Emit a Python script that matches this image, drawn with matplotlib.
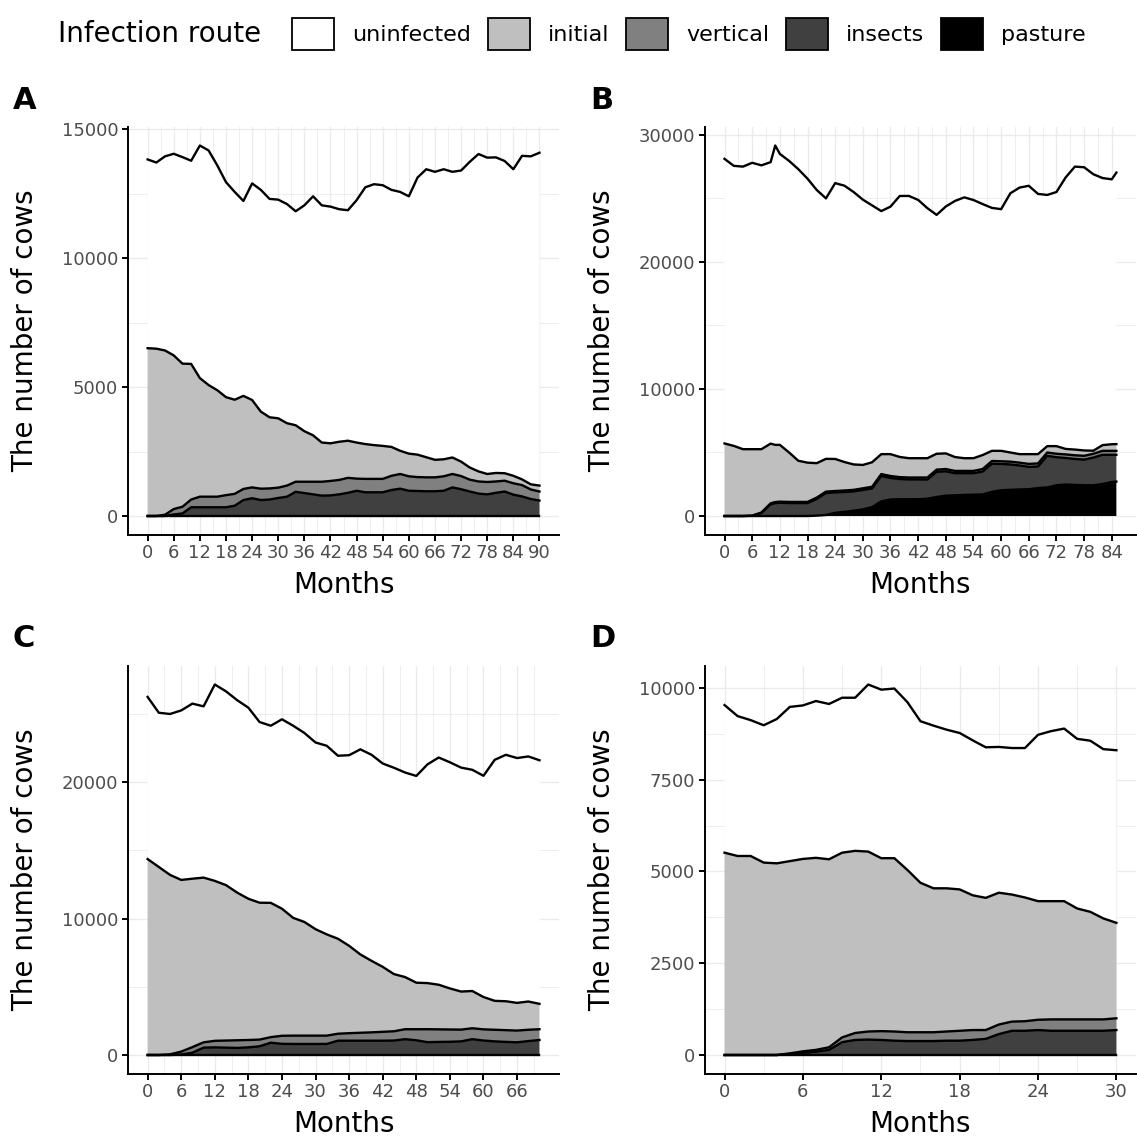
import numpy as np
import matplotlib
matplotlib.use('Agg')
import matplotlib.pyplot as plt
from matplotlib.patches import Patch
from matplotlib.ticker import MultipleLocator, FixedLocator

##########################
### DATA (cows per infection route)
##########################

route_names = ['uninfected', 'initial', 'vertical', 'insects', 'pasture']
route_colors = ['#FFFFFF', '#BFBFBF', '#808080', '#404040', '#000000']

# Panel A
a_months = list(range(0, 91, 2))
a_uninfected = [7320, 7220, 7530, 7820, 8010, 7880, 9020, 9100, 8720, 8340, 8060, 7560, 8400, 8600, 8470, 8480,
                8500, 8300, 8760, 9270, 9200, 9180, 9020, 8940, 9400, 9960, 10120, 10110, 9970, 10040, 9980,
                10750, 11170, 11170, 11250, 11080, 11290, 11860, 12310, 12270, 12240, 12110, 11890, 12550, 12720, 12910]
a_initial = [6510, 6490, 6370, 5960, 5550, 5260, 4600, 4330, 4130, 3800, 3650, 3610, 3390, 2990, 2760, 2690,
             2420, 2190, 1960, 1800, 1520, 1460, 1480, 1440, 1400, 1350, 1310, 1280, 1120, 900, 880,
             870, 780, 680, 660, 640, 560, 470, 390, 310, 330, 290, 290, 220, 200, 230]
a_vertical = [0, 0, 50, 210, 260, 300, 410, 410, 410, 470, 460, 430, 420, 440, 430, 400,
              430, 390, 440, 490, 540, 560, 560, 580, 470, 520, 520, 520, 550, 570, 560,
              540, 540, 540, 560, 520, 510, 460, 470, 480, 440, 420, 440, 440, 370, 350]
a_insects = [0, 0, 0, 60, 100, 340, 340, 340, 340, 340, 400, 620, 690, 620, 640, 700,
             750, 940, 890, 840, 790, 800, 840, 900, 980, 920, 920, 920, 1010, 1060, 980,
             970, 960, 960, 980, 1110, 1040, 950, 870, 840, 900, 950, 830, 760, 660, 600]
a_pasture = [0] * len(a_months)

# Panel B
b_months = [0, 2, 4, 6, 8, 10, 11] + list(range(12, 85, 2)) + [85]
b_uninfected = [22400, 22040, 22240, 22540, 22340, 22150, 23560, 22900, 22950, 22950, 22350, 21500, 20500, 21710,
                21750, 21440, 20880, 20220, 19130, 19480, 20540, 20640, 20330, 19680, 18800, 19430, 20160, 20530,
                20320, 19750, 19120, 19020, 20400, 20980, 21120, 20480, 19770, 20000, 21370, 22270, 22290, 21760,
                21020, 20850, 21370]
b_initial = [5710, 5520, 5260, 5230, 4980, 4700, 4500, 4470, 3890, 3240, 3090, 2710, 2580, 2520,
             2240, 2000, 1840, 1930, 1570, 1720, 1590, 1520, 1520, 1520, 1250, 1230, 1090, 1000,
             1000, 1100, 800, 820, 720, 670, 770, 730, 500, 600, 430, 450, 420, 240, 450,
             520, 530]
b_vertical = [0, 0, 0, 10, 40, 80, 85, 90, 90, 90, 90, 100, 110, 110,
              120, 120, 130, 130, 150, 150, 150, 150, 150, 160, 170, 180, 180, 180,
              180, 200, 210, 210, 220, 220, 230, 240, 260, 270, 280, 290, 300, 300, 310,
              310, 310]
b_insects = [0, 0, 0, 20, 240, 920, 1015, 1040, 1020, 1020, 1020, 1320, 1730, 1610,
             1560, 1520, 1530, 1470, 2000, 1700, 1590, 1560, 1560, 1510, 1980, 1920, 1740, 1710,
             1690, 1800, 2220, 2070, 2000, 1890, 1760, 1700, 2490, 2210, 2090, 2040, 2020, 2180, 2300,
             2140, 2110]
b_pasture = [0, 0, 0, 0, 0, 0, 0, 0, 0, 0, 0, 30, 80, 250,
             330, 420, 520, 700, 1150, 1300, 1320, 1320, 1320, 1360, 1500, 1600, 1630, 1660,
             1680, 1700, 1900, 2030, 2060, 2090, 2110, 2200, 2250, 2420, 2480, 2450, 2420, 2420, 2520,
             2680, 2710]

# Panel C
c_months = list(range(0, 71, 2))
c_uninfected = [11880, 11300, 11790, 12420, 12830, 12550, 14390, 14200, 14100, 14000, 13240, 12980,
                13880, 14080, 13850, 13680, 13820, 13410, 13970, 15030, 15100, 14900, 15120, 14990,
                15150, 16030, 16650, 16570, 16410, 16210, 16210, 17660, 18060, 17940, 17960, 17850]
c_initial = [14360, 13780, 13150, 12580, 12340, 12070, 11720, 11390, 10820, 10350, 10030, 9840,
             9310, 8630, 8330, 7800, 7420, 6960, 6400, 5740, 5240, 4760, 4190, 3820,
             3410, 3380, 3270, 3010, 2790, 2730, 2370, 2120, 2120, 2030, 2070, 1860]
c_vertical = [0, 0, 50, 210, 410, 390, 480, 520, 560, 540, 490, 410,
              590, 610, 610, 610, 610, 510, 550, 580, 610, 650, 680, 730,
              810, 950, 920, 900, 860, 800, 820, 850, 860, 860, 830, 790]
c_insects = [0, 0, 0, 40, 170, 540, 560, 540, 520, 560, 640, 900,
             820, 810, 810, 810, 810, 1050, 1050, 1050, 1050, 1050, 1060, 1160,
             1080, 940, 960, 970, 1000, 1160, 1060, 1000, 960, 930, 1020, 1100]
c_pasture = [0] * len(c_months)

# Panel D
d_months = list(range(0, 31))
d_uninfected = [4020, 3810, 3700, 3740, 3930, 4200, 4180, 4270, 4230, 4220, 4170, 4550, 4590, 4620, 4570, 4400,
                4430, 4320, 4260, 4220, 4100, 3970, 3990, 4070, 4530, 4630, 4700, 4620, 4660, 4610, 4700]
d_initial = [5510, 5420, 5420, 5240, 5220, 5235, 5240, 5230, 5120, 5030, 4960, 4900, 4710, 4720, 4420, 4070,
             3920, 3900, 3850, 3670, 3600, 3590, 3460, 3370, 3230, 3220, 3220, 3020, 2930, 2750, 2600]
d_vertical = [0, 0, 0, 0, 0, 15, 45, 50, 70, 130, 190, 220, 240, 250, 240, 240,
              240, 250, 270, 270, 240, 260, 250, 260, 280, 310, 310, 310, 310, 310, 320]
d_insects = [0, 0, 0, 0, 0, 30, 55, 90, 140, 350, 410, 420, 410, 390, 380, 380,
             380, 390, 390, 410, 440, 570, 660, 660, 680, 660, 660, 660, 660, 660, 680]
d_pasture = [0] * len(d_months)


def draw_panel(ax, months, uninfected, initial, vertical, insects, pasture, y_major):
    months = np.asarray(months, dtype=float)
    # stack from the bottom: pasture, insects, vertical, initial, uninfected
    layers = np.array([pasture, insects, vertical, initial, uninfected], dtype=float)
    tops = np.cumsum(layers, axis=0)
    base = np.zeros(len(months))
    for top, col in zip(tops, route_colors[::-1]):
        ax.fill_between(months, base, top, facecolor=col, edgecolor='none', lw=0, zorder=2)
        base = top
    for top in tops:
        ax.plot(months, top, color='black', lw=1.7, zorder=3, solid_joinstyle='round')

    x0, x1 = months[0], months[-1]
    ymax = tops[-1].max()
    ax.set_xlim(x0 - 0.05 * (x1 - x0), x1 + 0.05 * (x1 - x0))
    ax.set_ylim(-0.05 * ymax, 1.05 * ymax)

    ax.xaxis.set_major_locator(FixedLocator(np.arange(0, x1 + 1, 6)))
    ax.xaxis.set_minor_locator(FixedLocator(np.arange(3, x1, 6)))
    ax.yaxis.set_major_locator(MultipleLocator(y_major))
    ax.yaxis.set_minor_locator(MultipleLocator(y_major / 2))
    ax.grid(which='major', color='#EBEBEB', lw=1.0)
    ax.grid(which='minor', color='#EBEBEB', lw=0.6)
    ax.set_axisbelow(True)

    for side in ['top', 'right']:
        ax.spines[side].set_visible(False)
    for side in ['left', 'bottom']:
        ax.spines[side].set_linewidth(1.4)
        ax.spines[side].set_color('black')
    ax.tick_params(which='major', length=4, width=1.4, color='black',
                   labelsize=13, labelcolor='#4D4D4D', pad=3)
    ax.tick_params(which='minor', length=0)

    ax.set_xlabel('Months', fontsize=20)
    ax.set_ylabel('The number of cows', fontsize=20)
    ax.xaxis.label.set_verticalalignment('center')
    ax.yaxis.label.set_verticalalignment('center')
    ax.xaxis.set_label_coords(0.5, -0.125)
    ax.yaxis.set_label_coords(-0.239, 0.5)


fig = plt.figure(figsize=(11.37, 11.40), dpi=100)

ax_a = fig.add_axes([0.1126, 0.5311, 0.3791, 0.3575])
ax_b = fig.add_axes([0.6200, 0.5311, 0.3791, 0.3575])
ax_c = fig.add_axes([0.1126, 0.0583, 0.3791, 0.3575])
ax_d = fig.add_axes([0.6200, 0.0583, 0.3791, 0.3575])

draw_panel(ax_a, a_months, a_uninfected, a_initial, a_vertical, a_insects, a_pasture, 5000)
draw_panel(ax_b, b_months, b_uninfected, b_initial, b_vertical, b_insects, b_pasture, 10000)
draw_panel(ax_c, c_months, c_uninfected, c_initial, c_vertical, c_insects, c_pasture, 10000)
draw_panel(ax_d, d_months, d_uninfected, d_initial, d_vertical, d_insects, d_pasture, 2500)

# panel tags
for tag, x, y in [('A', 0.011, 0.912), ('B', 0.519, 0.912), ('C', 0.011, 0.440), ('D', 0.519, 0.440)]:
    fig.text(x, y, tag, fontsize=22, fontweight='bold', va='center', ha='left')

# legend across the top
handles = [Patch(facecolor=c, edgecolor='black', lw=1.3) for c in route_colors]
fig.text(0.051, 0.970, 'Infection route', fontsize=20, va='center', ha='left')
fig.legend(handles, route_names, ncol=5, loc='center left', bbox_to_anchor=(0.2568, 0.970),
           frameon=False, fontsize=16, borderpad=0, borderaxespad=0,
           handlelength=1.89, handleheight=1.8, handletextpad=0.81, columnspacing=0.76)

fig.savefig('out.png', dpi=100)
